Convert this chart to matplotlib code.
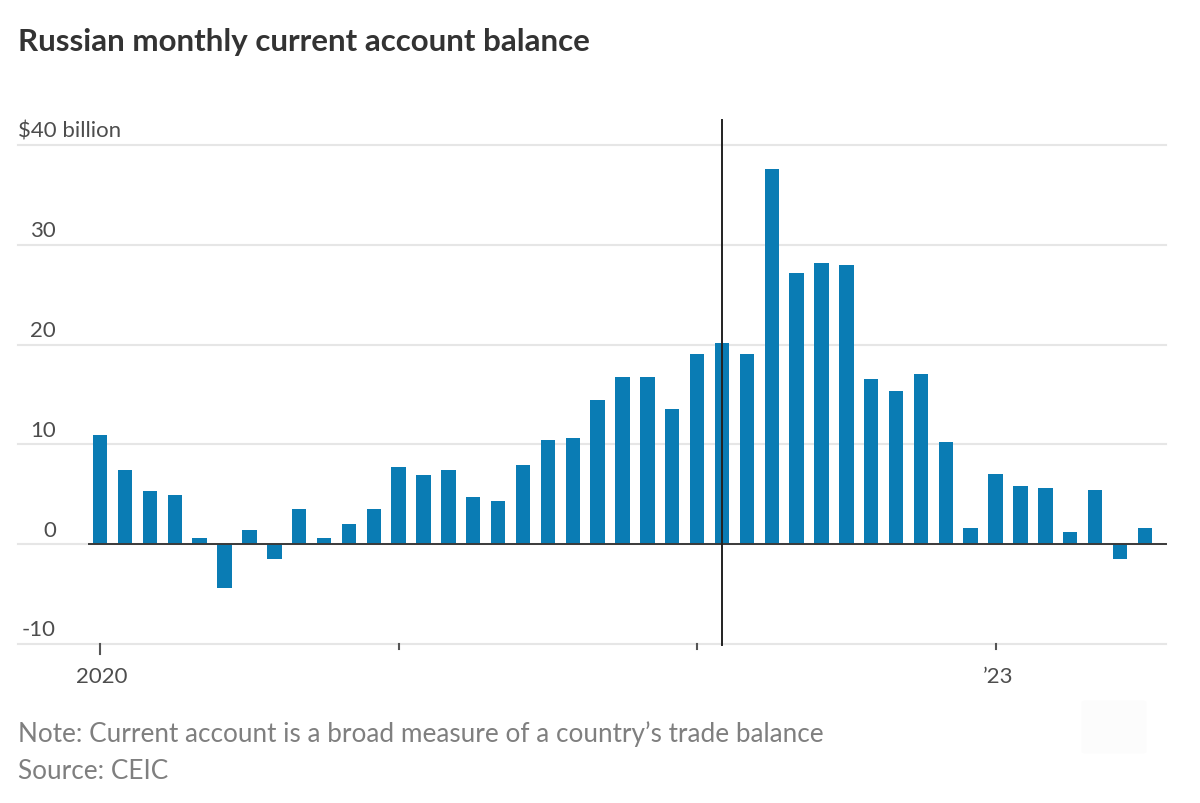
import matplotlib
matplotlib.use('Agg')
from matplotlib import pyplot as plt
from matplotlib.patches import FancyBboxPatch

# monthly values, $ billion, Jan 2020 onwards
values = [10.9, 7.4, 5.3, 4.9, 0.6, -4.4, 1.4, -1.5, 3.5, 0.6, 2.0, 3.5,
          7.7, 6.9, 7.4, 4.7, 4.3, 7.9, 10.4, 10.6, 14.4, 16.7, 16.7, 13.5,
          19.1, 20.2, 19.1, 37.6, 27.2, 28.2, 28.0, 16.5, 15.3, 17.0, 10.2, 1.6,
          7.0, 5.8, 5.6, 1.2, 5.4, -1.5, 1.6]
months = list(range(len(values)))

y_ticks = [-10, 0, 10, 20, 30]
y_labels = ['-10', '0', '10', '20', '30']
x_ticks = [0, 12, 24, 36]
x_labels = ['2020', '', '', '’23']
invasion = 25  # vertical line, Feb 2022

plt.rcParams['font.family'] = ['Lato', 'DejaVu Sans']
text_c = '#4d4d4d'
note_c = '#7f7f7f'

W, H = 1200, 804
fig = plt.figure(figsize=(12, 8.04), dpi=100)
ax = fig.add_axes([0, 0, 1, 1])
ax.set_xlim(-4.03, 44.22)
ax.set_ylim(-25.96, 54.64)
ax.axis('off')

# grid runs from 18px to 1166px
left = -3.31
right = 42.85
label_right = -1.78
for t in y_ticks + [40]:
    ax.plot([left, right], [t, t], color='#e6e6e6', lw=1.5, zorder=1)
for t, lab in zip(y_ticks, y_labels):
    ax.text(label_right, t + 0.45, lab, fontsize=16, color=text_c, va='bottom', ha='right', zorder=2)
ax.text(left, 40 + 0.45, '$40 billion', fontsize=16, color=text_c, va='bottom', ha='left', zorder=2)

ax.bar(months, values, width=0.58, color='#0a7cb4', zorder=3)
ax.plot([-0.46, right], [0, 0], color='#3a3a3a', lw=1.4, zorder=4)
ax.plot([invasion, invasion], [-10.1, 42.5], color='#222222', lw=1.4, zorder=5)

for t, lab in zip(x_ticks, x_labels):
    bottom = -11.0 if lab == '2020' else -10.5
    ax.plot([t, t], [-10, bottom], color='#555555', lw=1.5, zorder=4)
    ax.text(t + (0.05 if lab == '2020' else 0.1), -12.2, lab, fontsize=16, color=text_c, ha='center', va='top')

fig.text(18 / W, 1 - 42 / H, 'Russian monthly current account balance', fontsize=22.5,
         fontweight='bold', color='#333333', va='center', ha='left')
fig.text(18 / W, 1 - 734 / H, 'Note: Current account is a broad measure of a country’s trade balance',
         fontsize=18.8, color=note_c, va='center', ha='left')
fig.text(18 / W, 1 - 772 / H, 'Source: CEIC', fontsize=18.8, color=note_c, va='center', ha='left')

# faint badge in the lower right corner
fig.add_artist(FancyBboxPatch((1085 / W, 1 - 752 / H), 58 / W, 48 / H, boxstyle='round,pad=0.003',
                              transform=fig.transFigure, fc='#fcfcfc', ec='none'))

fig.savefig('out.png', dpi=100)
